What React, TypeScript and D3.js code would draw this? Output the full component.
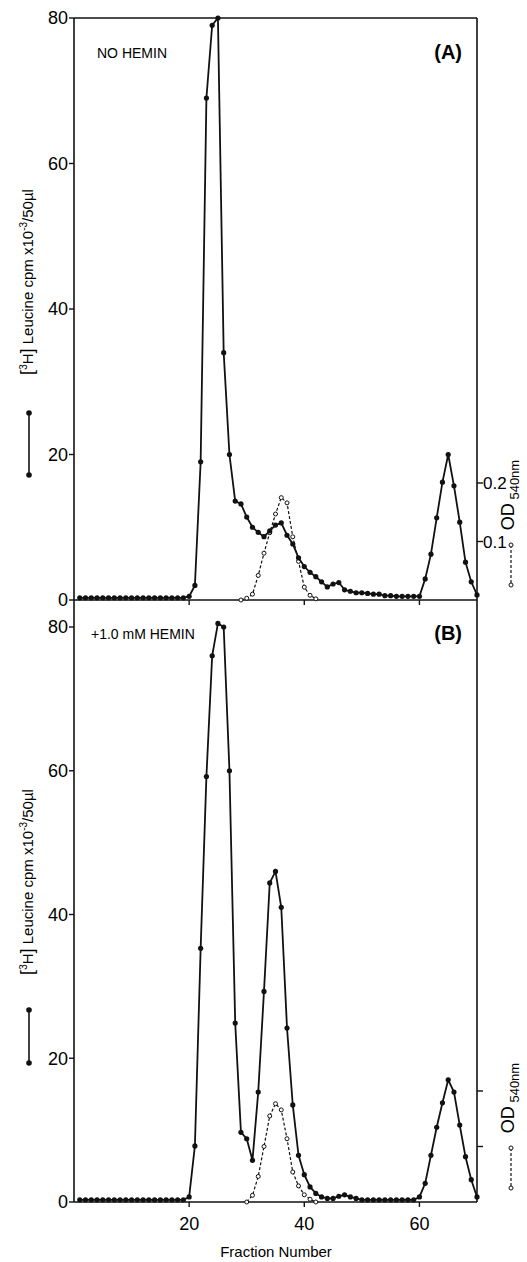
import * as d3 from 'd3';
import { useEffect, useRef } from 'react';

const fractions = d3.range(1, 71);

// [3H] leucine cpm x10^-3 / 50 µl, fractions 1..70
const cpmNoHemin = [
  0.3, 0.3, 0.3, 0.3, 0.3, 0.3, 0.3, 0.3, 0.3, 0.3,
  0.3, 0.3, 0.3, 0.3, 0.3, 0.3, 0.3, 0.3, 0.3, 0.5,
  2, 19, 69, 79, 80, 34, 20, 13.6, 13.2, 11.4,
  10, 9.3, 8.7, 9.5, 10.3, 10.6, 8.9, 7.7, 5.8, 4.6,
  3.8, 3.2, 2.5, 1.8, 2.2, 2.4, 1.4, 1.2, 1, 1,
  0.9, 0.8, 0.8, 0.6, 0.6, 0.5, 0.5, 0.5, 0.5, 0.5,
  2.9, 6.3, 11.3, 16.2, 20, 15.7, 10.7, 5.2, 2.5, 0.7,
];
const cpmHemin = [
  0.3, 0.3, 0.3, 0.3, 0.3, 0.3, 0.3, 0.3, 0.3, 0.3,
  0.3, 0.3, 0.3, 0.3, 0.3, 0.3, 0.3, 0.3, 0.3, 0.7,
  7.8, 35.3, 59.2, 76, 80.5, 80, 60, 24.9, 9.7, 8.8,
  5.8, 15.3, 29.3, 44.4, 46, 41, 24.2, 13.5, 6.5, 3.8,
  2.1, 1.2, 0.7, 0.5, 0.5, 0.8, 1, 0.7, 0.5, 0.3,
  0.3, 0.3, 0.3, 0.3, 0.3, 0.3, 0.3, 0.3, 0.3, 0.7,
  2.6, 6.5, 10.4, 13.8, 17, 15.3, 10.7, 6.3, 3.1, 0.7,
];

// OD 540nm (fractions listed separately)
const odFracNoHemin = [29, 30, 31, 32, 33, 34, 35, 36, 37, 38, 39, 40, 41, 42];
const odNoHemin = [0, 0.003, 0.01, 0.042, 0.08, 0.115, 0.147, 0.175, 0.166, 0.108, 0.066, 0.022, 0.008, 0.002];
const odFracHemin = [30, 31, 32, 33, 34, 35, 36, 37, 38, 39, 40, 41, 42];
const odHemin = [0, 0.012, 0.046, 0.1, 0.155, 0.177, 0.166, 0.114, 0.054, 0.029, 0.013, 0.005, 0];

const yTicks = [0, 20, 40, 60, 80];
const xTicks = [20, 40, 60];
const odTicks = [0.1, 0.2];

const FONT = '"Liberation Sans", Arial, sans-serif';

export default function App() {
  const ref = useRef<SVGSVGElement | null>(null);

  useEffect(() => {
    const svg = d3.select(ref.current);
    svg.selectAll('*').remove();
    const left = 74, right = 477;
    const x = d3.scaleLinear().domain([0, 70]).range([left, right]);

    const panels = [
      { cpm: cpmNoHemin, odF: odFracNoHemin, od: odNoHemin, y0: 600, y80: 18, odTopY: 483, label: 'NO HEMIN', tag: '(A)', top: 18, odLabels: true, tagY: 59, labY: 58, titleY: 282, lg: [413, 475], odMid: 495, odLg: [545, 585] },
      { cpm: cpmHemin, odF: odFracHemin, od: odHemin, y0: 1202, y80: 627, odTopY: 1091, label: '+1.0 mM HEMIN', tag: '(B)', top: 600, odLabels: false, tagY: 640, labY: 639, titleY: 882, lg: [1010, 1063], odMid: 1098, odLg: [1148, 1188] },
    ];

    panels.forEach((p, pi) => {
      const g = svg.append('g');
      const y = d3.scaleLinear().domain([0, 80]).range([p.y0, p.y80]);
      const yOd = d3.scaleLinear().domain([0, 0.2]).range([p.y0, p.odTopY]);

      // frame
      const frame = (x1: number, y1: number, x2: number, y2: number) =>
        g.append('line').attr('x1', x1).attr('x2', x2).attr('y1', y1).attr('y2', y2).attr('stroke', '#111').attr('stroke-width', 1.6);
      frame(left, p.top, left, p.y0);
      frame(right, p.top, right, p.y0);
      frame(left, p.y0, right, p.y0);
      if (pi === 0) frame(left, p.top, right, p.top);

      // left ticks
      yTicks.forEach((t) => {
        g.append('line').attr('x1', left - 5).attr('x2', left).attr('y1', y(t)).attr('y2', y(t)).attr('stroke', '#111').attr('stroke-width', 1.4);
        g.append('text').attr('x', left - 6).attr('y', y(t)).attr('dy', '0.36em').attr('text-anchor', 'end')
          .attr('font-family', FONT).attr('font-size', 18).text(t);
      });
      // x ticks
      xTicks.forEach((t) => {
        g.append('line').attr('x1', x(t)).attr('x2', x(t)).attr('y1', p.y0).attr('y2', p.y0 + 5).attr('stroke', '#111').attr('stroke-width', 1.4);
      });
      // right OD ticks
      odTicks.forEach((t) => {
        g.append('line').attr('x1', right).attr('x2', right + 6).attr('y1', yOd(t)).attr('y2', yOd(t)).attr('stroke', '#111').attr('stroke-width', 1.4);
        if (p.odLabels) g.append('text').attr('x', right + 6).attr('y', yOd(t)).attr('dy', '0.36em')
          .attr('font-family', FONT).attr('font-size', 17).text(String(t));
      });

      // OD dashed
      const odPts = p.odF.map((f, i) => [f, p.od[i]] as [number, number]);
      const odLine = d3.line<[number, number]>().x((d) => x(d[0])).y((d) => yOd(d[1]));
      g.append('path').attr('d', odLine(odPts)).attr('fill', 'none').attr('stroke', '#111').attr('stroke-width', 1.2).attr('stroke-dasharray', '3,2');
      g.selectAll('circle.od').data(odPts).enter().append('circle').attr('cx', (d) => x(d[0])).attr('cy', (d) => yOd(d[1]))
        .attr('r', 2).attr('fill', 'white').attr('stroke', '#111').attr('stroke-width', 1);

      // cpm solid
      const pts = fractions.map((f, i) => [f, p.cpm[i]] as [number, number]);
      const line = d3.line<[number, number]>().x((d) => x(d[0])).y((d) => y(d[1]));
      g.append('path').attr('d', line(pts)).attr('fill', 'none').attr('stroke', '#111').attr('stroke-width', 1.8);
      g.selectAll('circle.cpm').data(pts).enter().append('circle').attr('cx', (d) => x(d[0])).attr('cy', (d) => y(d[1]))
        .attr('r', 2.6).attr('fill', '#111');

      // annotations
      g.append('text').attr('x', pi === 0 ? 97 : 91).attr('y', p.labY).attr('font-family', FONT).attr('font-size', 14).text(p.label);
      g.append('text').attr('x', 462).attr('y', p.tagY).attr('text-anchor', 'end').attr('font-family', FONT).attr('font-size', 20).attr('font-weight', 'bold').text(p.tag);

      // left axis title + legend
      const t = g.append('text').attr('transform', `translate(33,${p.titleY}) rotate(-90)`).attr('text-anchor', 'middle')
        .attr('font-family', FONT).attr('font-size', 15);
      t.append('tspan').attr('font-size', 18).text('[');
      t.append('tspan').attr('font-size', 10).attr('dy', -6).text('3');
      t.append('tspan').attr('dy', 6).text('H');
      t.append('tspan').attr('font-size', 18).text(']');
      t.append('tspan').text(' Leucine cpm  x10');
      t.append('tspan').attr('font-size', 10).attr('dy', -6).text('-3');
      t.append('tspan').attr('dy', 6).text('/50µl');
      g.append('line').attr('x1', 29).attr('x2', 29).attr('y1', p.lg[0]).attr('y2', p.lg[1]).attr('stroke', '#111').attr('stroke-width', 1.6);
      g.append('circle').attr('cx', 29).attr('cy', p.lg[0]).attr('r', 2.8).attr('fill', '#111');
      g.append('circle').attr('cx', 29).attr('cy', p.lg[1]).attr('r', 2.8).attr('fill', '#111');

      // right OD title + legend
      const o = g.append('text').attr('transform', `translate(514,${p.odMid}) rotate(-90)`).attr('text-anchor', 'middle')
        .attr('font-family', FONT).attr('font-size', 18);
      o.append('tspan').text('OD');
      o.append('tspan').attr('font-size', 13).attr('dy', 5).text(' 540nm');
      g.append('line').attr('x1', 511).attr('x2', 511).attr('y1', p.odLg[0]).attr('y2', p.odLg[1]).attr('stroke', '#111').attr('stroke-width', 1.2).attr('stroke-dasharray', '3,2');
      g.append('circle').attr('cx', 511).attr('cy', p.odLg[0]).attr('r', 2).attr('fill', 'white').attr('stroke', '#111');
      g.append('circle').attr('cx', 511).attr('cy', p.odLg[1]).attr('r', 2).attr('fill', 'white').attr('stroke', '#111');
    });

    // bottom x labels
    xTicks.forEach((t) => {
      svg.append('text').attr('x', x(t)).attr('y', 1230).attr('text-anchor', 'middle').attr('font-family', FONT).attr('font-size', 18).text(t);
    });
    svg.append('text').attr('x', 276).attr('y', 1257).attr('text-anchor', 'middle').attr('font-family', FONT).attr('font-size', 15).text('Fraction Number');
  }, []);

  return (
    <svg ref={ref} width={527} height={1262} style={{ position: 'absolute', left: 0, top: 0, background: 'white' }} />
  );
}
